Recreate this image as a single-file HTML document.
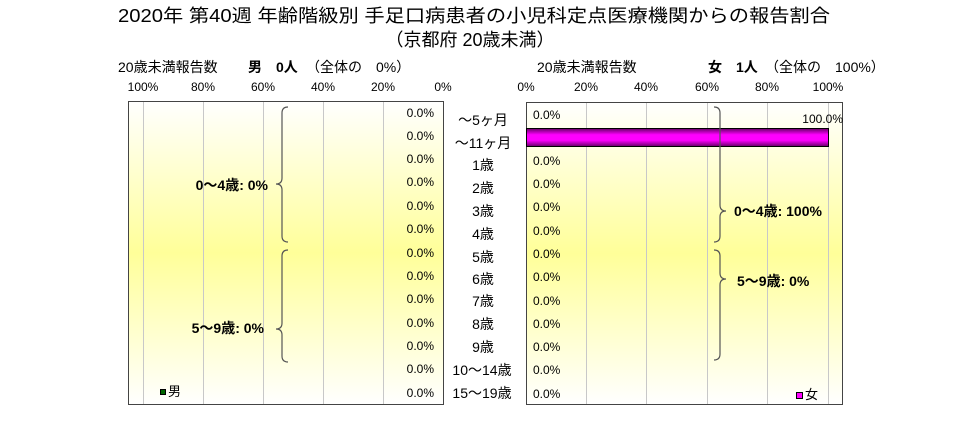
<!DOCTYPE html>
<html><head><meta charset="utf-8"><style>
body{margin:0;background:#fff;}
svg text{font-family:"Liberation Sans","Noto Sans CJK JP",sans-serif;}
</style></head><body>
<svg width="968" height="443" xmlns="http://www.w3.org/2000/svg">
<defs>
<linearGradient id="bg" x1="0" y1="0" x2="0" y2="1">
<stop offset="0" stop-color="#ffffff"/>
<stop offset="0.5" stop-color="#ffff99"/>
<stop offset="1" stop-color="#ffffff"/>
</linearGradient>
<linearGradient id="bar" x1="0" y1="0" x2="0" y2="1">
<stop offset="0" stop-color="#660066"/>
<stop offset="0.35" stop-color="#ff00ff"/>
<stop offset="0.65" stop-color="#ff00ff"/>
<stop offset="1" stop-color="#660066"/>
</linearGradient>
</defs>
<text x="474" y="22" font-size="18" text-anchor="middle" textLength="712" lengthAdjust="spacingAndGlyphs">2020年 第40週 年齢階級別 手足口病患者の小児科定点医療機関からの報告割合</text>
<text x="470" y="46" font-size="18" text-anchor="middle">（京都府 20歳未満）</text>

<g font-size="14">
<text x="118" y="72">20歳未満報告数</text>
<text x="248" y="72" font-weight="bold">男　0人</text>
<text x="306" y="72">（全体の　0%）</text>
<text x="537" y="72">20歳未満報告数</text>
<text x="708" y="72" font-weight="bold">女　1人</text>
<text x="765" y="72">（全体の　100%）</text>
</g>
<g font-size="12" text-anchor="middle">
<text x="143" y="91">100%</text><text x="203" y="91">80%</text><text x="263" y="91">60%</text><text x="323" y="91">40%</text><text x="383" y="91">20%</text><text x="443" y="91">0%</text>
<text x="526" y="91">0%</text><text x="586" y="91">20%</text><text x="646" y="91">40%</text><text x="707" y="91">60%</text><text x="767" y="91">80%</text><text x="828" y="91">100%</text>
</g>

<rect x="128" y="101" width="316" height="304" fill="url(#bg)"/>
<rect x="526" y="102" width="317" height="303" fill="url(#bg)"/>
<g stroke="#c8c8c8" stroke-width="1">
<line x1="143.5" y1="101" x2="143.5" y2="405"/><line x1="203.5" y1="101" x2="203.5" y2="405"/><line x1="263.5" y1="101" x2="263.5" y2="405"/><line x1="323.5" y1="101" x2="323.5" y2="405"/><line x1="383.5" y1="101" x2="383.5" y2="405"/>
<line x1="586.5" y1="102" x2="586.5" y2="405"/><line x1="646.5" y1="102" x2="646.5" y2="405"/><line x1="707.5" y1="102" x2="707.5" y2="405"/><line x1="767.5" y1="102" x2="767.5" y2="405"/><line x1="828.5" y1="102" x2="828.5" y2="405"/>
</g>
<rect x="128.5" y="101.5" width="315" height="303" fill="none" stroke="#444"/>
<rect x="526.5" y="102.5" width="316" height="302" fill="none" stroke="#444"/>

<rect x="526.5" y="128.5" width="302" height="18" fill="url(#bar)" stroke="#000"/>

<g font-size="12" fill="#000">
<g text-anchor="end">
<text x="434" y="117">0.0%</text><text x="434" y="140">0.0%</text><text x="434" y="163">0.0%</text><text x="434" y="186">0.0%</text><text x="434" y="210">0.0%</text><text x="434" y="233">0.0%</text><text x="434" y="257">0.0%</text><text x="434" y="280">0.0%</text><text x="434" y="303">0.0%</text><text x="434" y="327">0.0%</text><text x="434" y="350">0.0%</text><text x="434" y="373">0.0%</text><text x="434" y="397">0.0%</text>
<text x="843" y="123">100.0%</text>
</g>
<text x="533" y="119">0.0%</text>
<text x="533" y="165">0.0%</text><text x="533" y="188">0.0%</text><text x="533" y="211">0.0%</text><text x="533" y="235">0.0%</text><text x="533" y="258">0.0%</text><text x="533" y="281">0.0%</text><text x="533" y="305">0.0%</text><text x="533" y="328">0.0%</text><text x="533" y="351">0.0%</text><text x="533" y="374">0.0%</text><text x="533" y="398">0.0%</text>
</g>

<g font-size="14" text-anchor="middle">
<text x="483" y="125">～5ヶ月</text><text x="483" y="148">～11ヶ月</text><text x="483" y="170">1歳</text><text x="483" y="193">2歳</text><text x="483" y="216">3歳</text><text x="483" y="239">4歳</text><text x="483" y="262">5歳</text><text x="483" y="284">6歳</text><text x="483" y="306">7歳</text><text x="483" y="329">8歳</text><text x="483" y="352">9歳</text><text x="482" y="375">10～14歳</text><text x="482" y="398">15～19歳</text>
</g>

<g fill="none" stroke="#555" stroke-width="1.2">
<path d="M288 107 Q282 107 282 113 L282 178 Q282 184 276 184 Q282 184 282 190 L282 236 Q282 242 288 242"/>
<path d="M288 250 Q282 250 282 256 L282 323 Q282 329 276 329 Q282 329 282 335 L282 356 Q282 362 288 362"/>
<path d="M714 107 Q720 107 720 113 L720 205 Q720 211 726 211 Q720 211 720 217 L720 236 Q720 242 714 242"/>
<path d="M714 250 Q720 250 720 256 L720 273 Q720 279 726 279 Q720 279 720 285 L720 354 Q720 360 714 360"/>
</g>
<g font-size="14" font-weight="bold">
<text x="268" y="190" text-anchor="end">0～4歳: 0%</text>
<text x="264" y="333" text-anchor="end">5～9歳: 0%</text>
<text x="734" y="216">0～4歳: 100%</text>
<text x="737" y="286">5～9歳: 0%</text>
</g>
<rect x="160.5" y="389.5" width="5" height="5" fill="#006600" stroke="#000"/>
<text x="168" y="396" font-size="13">男</text>
<rect x="796.5" y="392.5" width="6" height="6" fill="#ff00ff" stroke="#000"/>
<text x="805" y="399" font-size="13">女</text>
</svg>
</body></html>
